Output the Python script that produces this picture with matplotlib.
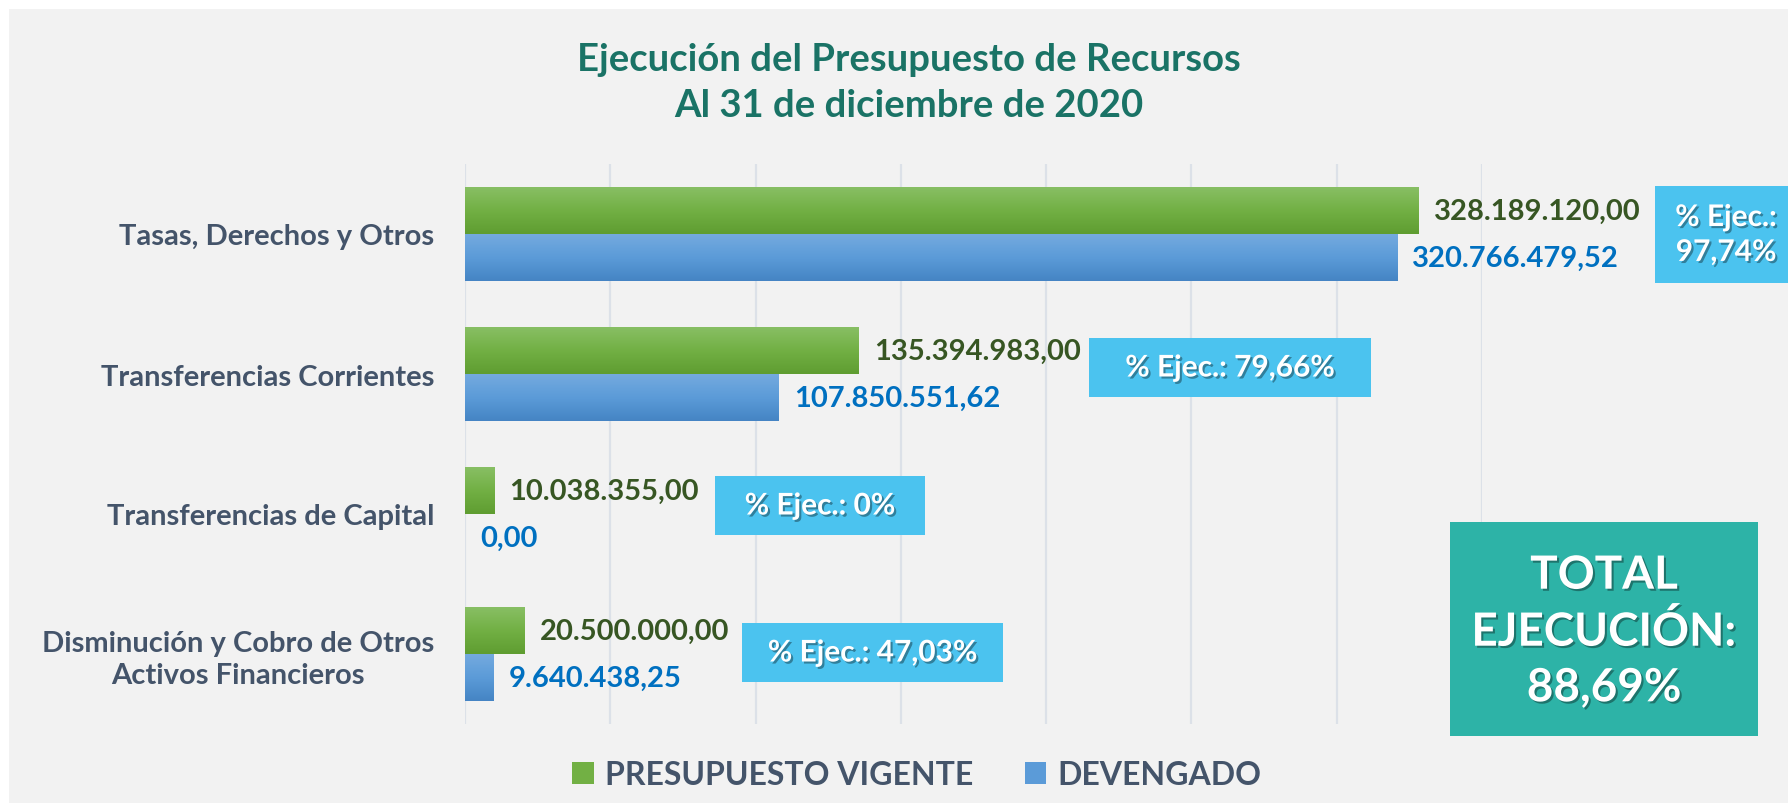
import matplotlib
matplotlib.use("Agg")
import matplotlib.pyplot as plt
import matplotlib.patheffects as pe
from matplotlib.patches import Rectangle
from matplotlib.colors import to_rgb
import numpy as np

# ---- data ----
categories = [
    "Tasas, Derechos y Otros",
    "Transferencias Corrientes",
    "Transferencias de Capital",
    "Disminución y Cobro de Otros\nActivos Financieros",
]
presupuesto_vigente = [328189120.00, 135394983.00, 10038355.00, 20500000.00]
devengado = [320766479.52, 107850551.62, 0.00, 9640438.25]
series_names = ["PRESUPUESTO VIGENTE", "DEVENGADO"]
title_lines = ["Ejecución del Presupuesto de Recursos", "Al 31 de diciembre de 2020"]

# ---- style ----
FONT = "Lato"
W, H = 1788, 804
PANEL = "#F2F2F2"
GREEN_GRAD = ["#88BF64", "#72B044", "#5F9D31"]
BLUE_GRAD = ["#74AADF", "#5B9BD8", "#4584C4"]
GREEN_TXT = "#375623"
BLUE_TXT = "#0070C0"
LABEL_TXT = "#44546A"
TITLE_TXT = "#1A7366"
BOX_BLUE = "#4BC3EF"
BOX_TEAL = "#2DB3A7"
GRID = "#DCE1E8"


def fmt_es(v):
    s = f"{v:,.2f}"
    return s.replace(",", "X").replace(".", ",").replace("X", ".")


def fmt_pct(p):
    if p == 0:
        return "0%"
    return f"{p * 100:.2f}".replace(".", ",") + "%"


def px_rect(x0, y0, x1, y1):
    """Figure-fraction rectangle from pixel coords measured from the top-left."""
    return (x0 / W, 1 - y1 / H, (x1 - x0) / W, (y1 - y0) / H)


shadow = [pe.withSimplePatchShadow(offset=(1.5, -1.5), shadow_rgbFace="black", alpha=0.35)]

fig = plt.figure(figsize=(W / 100, H / 100), dpi=100, facecolor="white")
fig.patches.append(Rectangle((9 / W, 0), 1, 1 - 10 / H, transform=fig.transFigure,
                             facecolor=PANEL, edgecolor="none", zorder=-10))

ax = fig.add_axes([465 / W, 1 - 725 / H, (1482 - 465) / W, (725 - 165) / H])
ax.set_facecolor("none")

y = np.arange(len(categories))
bh = 0.335
bars_p = ax.barh(y - bh / 2, presupuesto_vigente, height=bh, color=GREEN_GRAD[1],
                 label=series_names[0], zorder=3)
bars_d = ax.barh(y + bh / 2, devengado, height=bh, color=BLUE_GRAD[1],
                 label=series_names[1], zorder=3)

ax.set_xlim(0, 350e6)
ax.set_ylim(len(categories) - 0.5, -0.5)


def gradient_fill(bars, stops):
    cols = np.array([to_rgb(c) for c in stops])
    t = np.linspace(0, 1, 64)
    grad = np.empty((64, 1, 3))
    for k in range(3):
        grad[:, 0, k] = np.interp(t, [0, 0.5, 1], cols[:, k])
    for b in bars:
        x0, y0, w, h = b.get_x(), b.get_y(), b.get_width(), b.get_height()
        if w <= 0:
            continue
        ax.imshow(grad, extent=(x0, x0 + w, y0 + h, y0), origin="upper",
                  aspect="auto", zorder=4, interpolation="bilinear")


gradient_fill(bars_p, GREEN_GRAD)
gradient_fill(bars_d, BLUE_GRAD)
ax.set_xlim(0, 350e6)
ax.set_ylim(len(categories) - 0.5, -0.5)

# grid
ax.set_xticks(np.arange(0, 350e6 + 1, 50e6))
ax.set_xticklabels([])
ax.tick_params(axis="x", length=0)
ax.grid(axis="x", color=GRID, linewidth=1.6, zorder=0)
for s in ax.spines.values():
    s.set_visible(False)

# category labels
ax.set_yticks(y)
ax.set_yticklabels(categories, fontsize=21, fontweight="bold", color=LABEL_TXT,
                   fontfamily=FONT, linespacing=1.25)
for t in ax.get_yticklabels():
    t.set_multialignment("center")
ax.tick_params(axis="y", length=0, pad=22)

# value labels
for bars, vals, col in ((bars_p, presupuesto_vigente, GREEN_TXT), (bars_d, devengado, BLUE_TXT)):
    for b, v in zip(bars, vals):
        ax.annotate(fmt_es(v), (v, b.get_y() + b.get_height() / 2), xytext=(11, 0),
                    textcoords="offset points", va="center", ha="left",
                    fontsize=21, fontweight="bold", color=col, fontfamily=FONT, zorder=6)

# execution percentage boxes
pcts = [d / p if p else 0 for d, p in zip(devengado, presupuesto_vigente)]
boxes = [(1655, 187, 1800, 284), (1089, 339, 1371, 398), (715, 477, 925, 536), (742, 624, 1003, 683)]
for i, (p, (x0, y0, x1, y1)) in enumerate(zip(pcts, boxes)):
    fig.patches.append(Rectangle(px_rect(x0, y0, x1, y1)[:2], *px_rect(x0, y0, x1, y1)[2:],
                                 transform=fig.transFigure, facecolor=BOX_BLUE,
                                 edgecolor="none", zorder=5))
    sep = "\n" if i == 0 else " "
    cx = 1726 if i == 0 else (x0 + x1) / 2
    fig.text(cx / W, 1 - ((y0 + y1) / 2) / H, f"% Ejec.:{sep}{fmt_pct(p)}",
             ha="center", va="center", fontsize=21.5, fontweight="bold", color="white",
             fontfamily=FONT, linespacing=1.3, path_effects=shadow, zorder=6)

# total execution box
total = sum(devengado) / sum(presupuesto_vigente)
r = px_rect(1450, 523, 1758, 737)
fig.patches.append(Rectangle(r[:2], *r[2:], transform=fig.transFigure,
                             facecolor=BOX_TEAL, edgecolor="none", zorder=5))
fig.text(1604 / W, 1 - 633 / H, f"TOTAL\nEJECUCIÓN:\n{fmt_pct(total)}", ha="center", va="center",
         fontsize=33, fontweight="bold", color="white", fontfamily=FONT,
         linespacing=1.4, path_effects=shadow, zorder=6)

# title
fig.text(909 / W, 1 - 83 / H, "\n".join(title_lines), ha="center", va="center",
         fontsize=27.5, fontweight="bold", color=TITLE_TXT, fontfamily=FONT, linespacing=1.42)

# legend
fig.legend(handles=[bars_p, bars_d], labels=series_names, loc="center",
           bbox_to_anchor=(917 / W, 1 - 776 / H), ncol=2, frameon=False,
           prop={"family": FONT, "weight": "bold", "size": 23},
           labelcolor=LABEL_TXT, handlelength=0.68, handleheight=0.68,
           handletextpad=0.35, columnspacing=1.6)

fig.savefig("out.png", dpi=100, facecolor=fig.get_facecolor())
